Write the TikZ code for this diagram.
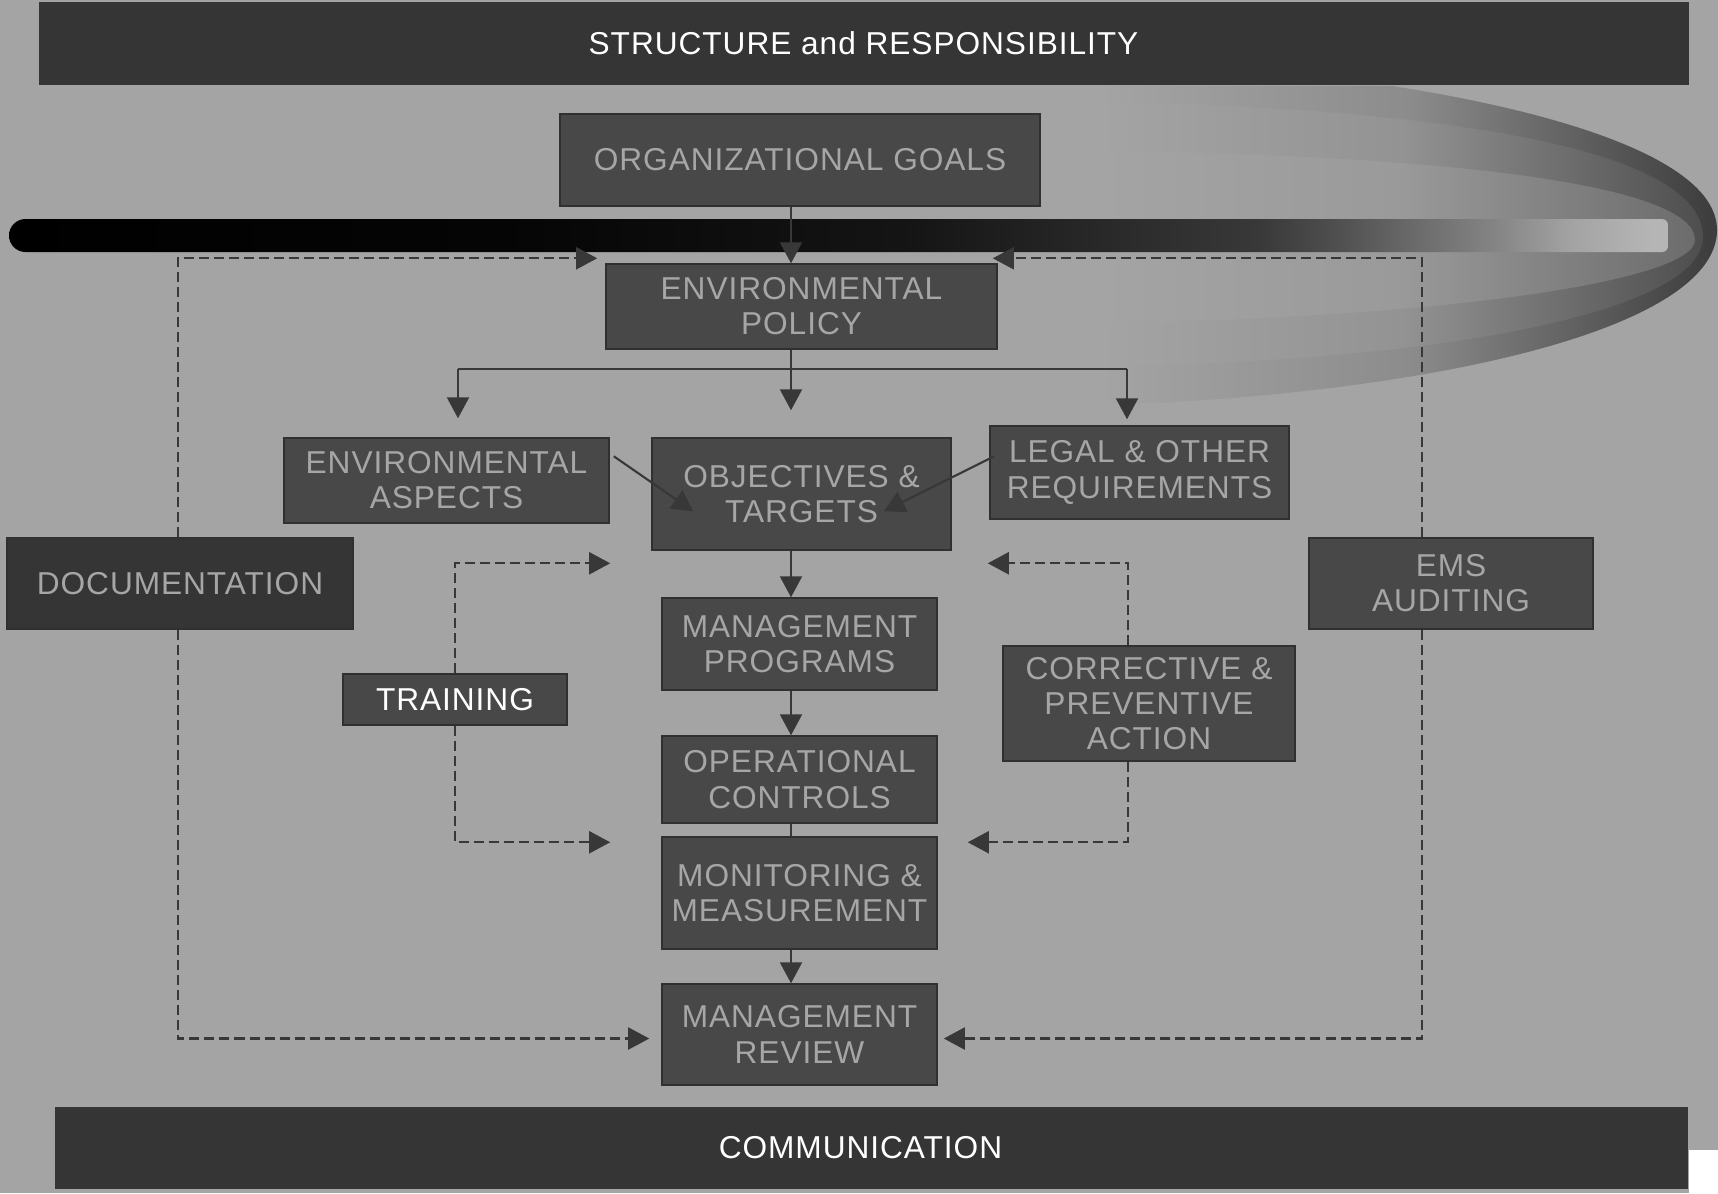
\documentclass[tikz,border=0pt]{standalone}
\usepackage{fontspec}
\setmainfont{Liberation Sans}[LetterSpace=3]
\usetikzlibrary{arrows.meta,calc}

\definecolor{bgGray}{HTML}{A4A4A4}
\definecolor{barGray}{HTML}{353535}
\definecolor{boxGray}{HTML}{484848}
\definecolor{rimGray}{HTML}{303030}
\definecolor{lineGray}{HTML}{383838}
\definecolor{textGray}{HTML}{A6A6A6}
\definecolor{ringOneMid}{HTML}{8C8C8C}
\definecolor{ringOneEnd}{HTML}{3C3C3C}
\definecolor{ringTwoMid}{HTML}{939393}
\definecolor{ringTwoEnd}{HTML}{4E4E4E}
\definecolor{ringThreeMid}{HTML}{9A9A9A}
\definecolor{ringThreeEnd}{HTML}{6C6C6C}

\pgfdeclarehorizontalshading{barshade}{100bp}{color(0bp)=(black); color(25bp)=(black);
  color(40bp)=(black!98); color(52bp)=(black!92); color(58bp)=(black!84);
  color(62.6bp)=(black!78); color(65bp)=(black!69); color(67.4bp)=(black!58);
  color(69.8bp)=(black!48); color(72.1bp)=(black!36); color(74.5bp)=(black!29);
  color(100bp)=(black!29)}

\begin{document}
\begin{tikzpicture}[x=0.01cm,y=-0.01cm,
    emsbox/.style={draw=rimGray,line width=0.4pt,fill=boxGray,text=textGray,
      align=center,inner sep=0pt,font=\fontsize{9}{10}\selectfont},
    emsbar/.style={fill=barGray,text=white,inner sep=0pt,font=\fontsize{9}{10}\selectfont},
    feedline/.style={draw=lineGray,line width=0.6pt},
    feedarrow/.style={feedline,-{Triangle[length=2.1mm,width=2.2mm]}},
    dashfeed/.style={feedarrow,dash pattern=on 1mm off 0.5mm}]

  \fill[bgGray] (0,0) rectangle (1718,1193);
  \fill[white] (1689,1150) rectangle (1718,1193);
  \useasboundingbox (0,0) rectangle (1718,1193);

  % swoosh round the policy bar
  \shade[left color=bgGray,right color=ringOneEnd,middle color=ringOneMid]
    (1100,86) -- (1392,86) .. controls (1560,112) and (1717,160) .. (1717,230)
    .. controls (1717,320) and (1480,385) .. (1159,403) -- (1100,404) -- cycle;
  \shade[left color=bgGray,right color=ringTwoEnd,middle color=ringTwoMid]
    (1100,102) .. controls (1450,108) and (1703,150) .. (1703,237)
    .. controls (1703,310) and (1450,362) .. (1100,366) -- cycle;
  \shade[left color=bgGray,right color=ringThreeEnd,middle color=ringThreeMid]
    (1100,151) .. controls (1450,155) and (1695,185) .. (1695,240)
    .. controls (1695,280) and (1450,318) .. (1100,323) -- cycle;

  \begin{scope}
    \clip[rounded corners=0.165cm] (9,219) rectangle (300,252)
      [rounded corners=0.06cm] (200,219) rectangle (1668,252);
    \shade[shading=barshade] (9,219) rectangle (1668,252);
  \end{scope}

  \node[emsbar,minimum width=16.49cm,minimum height=0.83cm] (structure) at (863.5,43.5) {STRUCTURE and RESPONSIBILITY};
  \node[emsbar,minimum width=16.33cm,minimum height=0.82cm] (communication) at (871.5,1148) {COMMUNICATION\hspace*{0.22cm}};

  \node[emsbox,minimum width=4.8cm,minimum height=0.92cm] (goals) at (800,160) {ORGANIZATIONAL GOALS};
  \node[emsbox,minimum width=3.91cm,minimum height=0.85cm] (policy) at (801.5,306.5) {ENVIRONMENTAL\\POLICY};
  \node[emsbox,minimum width=3.25cm,minimum height=0.85cm] (aspects) at (446.5,480.5) {ENVIRONMENTAL\\ASPECTS};
  \node[emsbox,minimum width=2.99cm,minimum height=1.12cm] (targets) at (801.5,494) {OBJECTIVES \&\\TARGETS};
  \node[emsbox,minimum width=2.99cm,minimum height=0.93cm] (legal) at (1139.5,472.5) {LEGAL \& OTHER\\REQUIREMENTS};
  \node[emsbox,fill=barGray,minimum width=3.46cm,minimum height=0.91cm] (documentation) at (180,583.5) {DOCUMENTATION};
  \node[emsbox,minimum width=2.84cm,minimum height=0.91cm] (auditing) at (1451,583.5) {EMS\\AUDITING};
  \node[emsbox,minimum width=2.75cm,minimum height=0.92cm] (programs) at (799.5,644) {MANAGEMENT\\PROGRAMS};
  \node[emsbox,text=white,minimum width=2.24cm,minimum height=0.51cm] (training) at (455,699.5) {TRAINING};
  \node[emsbox,minimum width=2.92cm,minimum height=1.15cm] (corrective) at (1149,703.5) {CORRECTIVE \&\\PREVENTIVE\\ACTION};
  \node[emsbox,minimum width=2.75cm,minimum height=0.87cm] (controls) at (799.5,779.5) {OPERATIONAL\\CONTROLS};
  \node[emsbox,minimum width=2.75cm,minimum height=1.12cm] (monitoring) at (799.5,893) {MONITORING \&\\MEASUREMENT};
  \node[emsbox,minimum width=2.75cm,minimum height=1.01cm] (review) at (799.5,1034.5) {MANAGEMENT\\REVIEW};

  \coordinate (spine) at (791,0);
  \coordinate (forkL) at (458,369);
  \coordinate (forkR) at (1127,369);

  \draw[feedarrow] (goals.south -| spine) -- (policy.north -| spine);
  \draw[feedline] (forkL) -- (forkR);
  \draw[feedarrow] (policy.south -| spine) -- ($(targets.north -| spine)+(0,-27)$);
  \draw[feedarrow] (forkL) -- ($(aspects.north -| forkL)+(0,-19)$);
  \draw[feedarrow] (forkR) -- ($(legal.north -| forkR)+(0,-6)$);
  \draw[feedarrow] ($(aspects.north east)+(4,19)$) -- ($(targets.north west)+(42,74)$);
  \draw[feedarrow] ($(legal.north west)+(5,31)$) -- ($(targets.north east)+(-68,74)$);
  \draw[feedarrow] (targets.south -| spine) -- (programs.north -| spine);
  \draw[feedarrow] (programs.south -| spine) -- (controls.north -| spine);
  \draw[feedline] (controls.south -| spine) -- (monitoring.north -| spine);
  \draw[feedarrow] (monitoring.south -| spine) -- (review.north -| spine);

  \draw[dashfeed] ($(documentation.north)+(-2,0)$) |- ($(policy.north west)+(-8,-5)$);
  \draw[dashfeed] ($(auditing.north)+(-29,0)$) |- ($(policy.north east)+(-5,-5)$);
  \draw[dashfeed] ($(documentation.south)+(-2,0)$) |- ($(review.west)+(-12,4)$);
  \draw[dashfeed] ($(auditing.south)+(-29,0)$) |- ($(review.east)+(6,4)$);
  \draw[dashfeed] (training.north) |- ($(programs.north west)+(-51,-34)$);
  \draw[dashfeed] (training.south) |- ($(monitoring.north west)+(-51,6)$);
  \draw[dashfeed] ($(corrective.north)+(-21,0)$) |- ($(programs.north east)+(50,-34)$);
  \draw[dashfeed] ($(corrective.south)+(-21,0)$) |- ($(monitoring.north east)+(30,6)$);
\end{tikzpicture}
\end{document}
